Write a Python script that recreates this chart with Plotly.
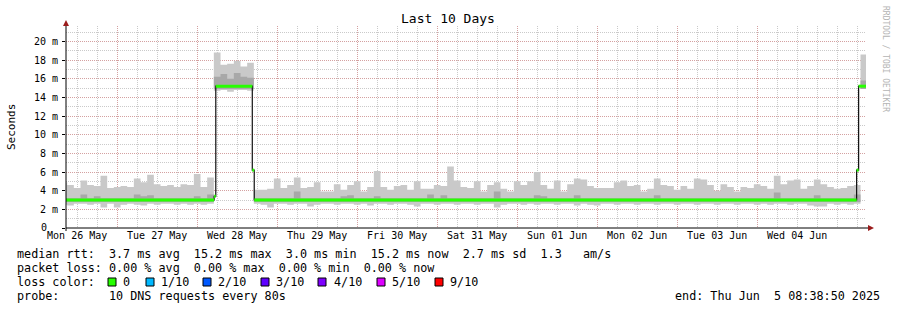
import plotly.graph_objects as go
import pandas as pd

# ---------------- data ----------------
start = pd.Timestamp("2025-05-26 08:38:50")
end = pd.Timestamp("2025-06-05 08:38:50")

day_labels = ["Mon 26 May", "Tue 27 May", "Wed 28 May", "Thu 29 May", "Fri 30 May",
              "Sat 31 May", "Sun 01 Jun", "Mon 02 Jun", "Tue 03 Jun", "Wed 04 Jun"]
day_noons = pd.date_range("2025-05-26 12:00", periods=10, freq="D")
midnights = pd.date_range("2025-05-27 00:00", periods=9, freq="D")

y_tick_vals = [0, 2, 4, 6, 8, 10, 12, 14, 16, 18, 20]
y_tick_text = ["", "2 m", "4 m", "6 m", "8 m", "10 m", "12 m", "14 m", "16 m",
               "18 m", "20 m"]
y_zero_label = "0"

# smoke, 2-hour bins (ms)
bin_times = pd.date_range("2025-05-26 07:00", periods=121, freq="2h")
smoke_hi = [4.9, 4.6, 4.3, 5.1, 4.6, 4.5, 5.6, 4.3, 4.4, 4.5, 4.4, 5.3, 4.9, 5.7, 4.7, 4.5,
            4.6, 4.4, 4.7, 4.6, 5.8, 4.4, 5.4,
            18.8, 17.5, 17.6, 17.9, 17.3, 17.7,
            4.1, 4.1,
            4.2, 5.3, 4.3, 4.6, 5.4, 4.3, 4.4, 4.9, 3.9, 3.9, 4.7, 4.1, 4.6, 5.0, 3.9,
            4.4, 6.1, 4.4, 4.1, 4.5, 4.6, 4.1, 5.0, 4.2, 4.2, 4.6, 4.5, 6.6, 5.1, 4.4,
            4.3, 5.0, 3.9, 4.6, 4.9, 4.2, 3.9, 5.0, 4.6, 5.0, 6.0, 4.6, 4.2, 5.1, 3.9,
            4.7, 5.3, 5.2, 4.5, 4.3, 4.3, 4.3, 4.9, 5.1, 4.5, 4.6, 3.9, 4.2, 5.3, 4.6,
            4.5, 4.1, 4.5, 4.2, 5.3, 5.2, 4.6, 4.0, 4.7, 4.4, 3.9, 4.4, 4.3, 4.7, 4.5,
            4.2, 5.6, 4.7, 5.1, 5.2, 4.2, 4.5, 5.2, 4.7, 4.4, 4.2, 4.3, 4.5, 4.6,
            18.6]
smoke_lo = [2.5, 2.4, 2.6, 2.6, 2.5, 2.6, 2.2, 2.6, 2.2, 2.5, 2.6, 2.5, 2.4, 2.6, 2.5, 2.6,
            2.6, 2.5, 2.6, 2.5, 2.6, 2.5, 2.6,
            14.7, 14.8, 14.6, 14.8, 14.8, 14.7,
            2.6, 2.5, 2.2, 2.6, 2.6, 2.5, 2.6, 2.6, 2.3, 2.5, 2.6, 2.6, 2.5, 2.6, 2.6, 2.5,
            2.6, 2.4, 2.6, 2.6, 2.5, 2.6, 2.6, 2.5, 2.3, 2.6, 2.6, 2.5, 2.6, 2.6, 2.5, 2.6,
            2.6, 2.5, 2.6, 2.6, 2.2, 2.5, 2.6, 2.6, 2.5, 2.6, 2.5, 2.6, 2.6, 2.5, 2.6,
            2.6, 2.4, 2.6, 2.5, 2.4, 2.6, 2.6, 2.5, 2.6, 2.6, 2.5, 2.6, 2.6, 2.5, 2.6,
            2.6, 2.5, 2.6, 2.6, 2.5, 2.6, 2.6, 2.5, 2.6, 2.6, 2.5, 2.6, 2.6, 2.5, 2.6,
            2.5, 2.6, 2.6, 2.5, 2.6, 2.6, 2.4, 2.3, 2.3, 2.6, 2.5, 2.6, 2.5, 2.6,
            14.9]
core_hi = [3.2, 3.2, 3.2, 3.6, 3.2, 3.4, 3.2, 3.2, 3.2, 3.2, 3.2, 3.6, 3.4, 3.5, 3.2, 3.2,
           3.2, 3.2, 3.2, 3.2, 3.4, 3.2, 3.6,
           16.2, 16.5, 16.0, 16.6, 16.2, 16.1,
           3.2, 3.2, 3.2, 3.2, 3.2, 3.2, 3.9, 3.2, 3.2, 3.2, 3.2, 3.2, 3.2, 3.4, 3.5, 3.2,
           3.2, 3.2, 3.4, 3.2, 3.2, 3.2, 3.2, 3.2, 3.2, 3.2, 3.6, 3.2, 3.5, 3.2, 3.2, 3.2,
           3.2, 3.2, 3.2, 3.2, 3.9, 3.2, 3.2, 3.2, 3.2, 3.2, 3.5, 3.4, 3.2, 3.2, 3.2,
           3.2, 3.5, 3.2, 3.2, 3.2, 3.2, 3.2, 3.2, 3.2, 3.2, 3.2, 3.2, 3.2, 3.5, 3.2,
           3.2, 3.2, 3.2, 3.2, 3.2, 3.2, 3.2, 3.2, 3.2, 3.2, 3.2, 3.2, 3.2, 3.2, 3.2,
           3.2, 3.8, 3.2, 3.2, 3.2, 3.2, 3.2, 3.5, 3.2, 3.2, 3.2, 3.2, 3.2, 3.6,
           15.8]
core_lo = [2.8] * 23 + [14.9] * 6 + [2.8] * 91 + [14.9]

# median rtt steps (ms)
median_times = ["2025-05-26 08:38:50", "2025-05-28 05:05", "2025-05-28 05:35",
                "2025-05-28 16:32", "2025-05-28 17:07", "2025-06-05 05:50",
                "2025-06-05 06:26"]
median_vals = [3.0, 3.4, 15.2, 6.2, 3.0, 6.2, 15.2]

legend_line1 = "median rtt:  3.7 ms avg  15.2 ms max  3.0 ms min  15.2 ms now  2.7 ms sd  1.3   am/s"
legend_line2 = "packet loss: 0.00 % avg  0.00 % max  0.00 % min  0.00 % now"
legend_line3 = "loss color:"
legend_line4 = "probe:       10 DNS requests every 80s"
end_text = "end: Thu Jun  5 08:38:50 2025"
loss_labels = ["0", "1/10", "2/10", "3/10", "4/10", "5/10", "9/10"]
loss_colors = ["#26ff00", "#00b8ff", "#0059ff", "#5e00ff", "#7e00ff", "#dd00ff", "#ff0000"]

# ---------------- layout geometry (pixels) ----------------
W, H = 897, 310
L, R, T, B = 66, 31, 26, 82
PW, PH = W - L - R, H - T - B
FONT = "DejaVu Sans Mono"


def px(x):
    return (x - L) / PW


def py(y):
    return (H - B - y) / PH


step = pd.Timedelta(hours=2)
bx = list(bin_times) + [bin_times[-1] + step]

fig = go.Figure()


def band(lo, hi, color):
    fig.add_trace(go.Scatter(x=bx, y=lo + [lo[-1]], mode="lines", line=dict(width=0, shape="hv"),
                             hoverinfo="skip"))
    fig.add_trace(go.Scatter(x=bx, y=hi + [hi[-1]], mode="lines", line=dict(width=0, shape="hv"),
                             fill="tonexty", fillcolor=color, hoverinfo="skip"))


band(smoke_lo, smoke_hi, "#c9c9c9")
band(core_lo, core_hi, "#a8a8a8")

mt = [pd.Timestamp(t) for t in median_times] + [end]
mv = median_vals + [median_vals[-1]]
fig.add_trace(go.Scatter(x=mt, y=mv, mode="lines", line=dict(color="#101010", width=1.2, shape="hv"),
                         hoverinfo="skip"))
gx, gy = [], []
for i in range(len(median_vals)):
    gx += [mt[i], mt[i + 1], None]
    gy += [mv[i], mv[i], None]
fig.add_trace(go.Scatter(x=gx, y=gy, mode="lines", line=dict(color="#26ff00", width=3),
                         hoverinfo="skip"))
# label axis carrier
fig.add_trace(go.Scatter(x=[start], y=[None], xaxis="x2", mode="markers", hoverinfo="skip"))

gray_grid = "rgba(150,150,150,0.5)"
red_grid = "rgba(225,110,110,0.45)"

fig.update_layout(
    width=W, height=H, margin=dict(l=L, r=R, t=T, b=B, pad=0),
    paper_bgcolor="white", plot_bgcolor="white", showlegend=False,
    font=dict(family=FONT, size=10, color="black"),
    xaxis=dict(type="date", range=[start, end], tickmode="array", tickvals=list(midnights),
               showticklabels=False, showgrid=True, gridcolor=red_grid, griddash="1px,1px",
               gridwidth=1, zeroline=False, showline=False, ticks="",
               minor=dict(dtick=6 * 3600 * 1000, tick0="2025-05-26 00:00", showgrid=True,
                          gridcolor=gray_grid, griddash="1px,1px", gridwidth=1)),
    xaxis2=dict(type="date", range=[start, end], overlaying="x", anchor="y", side="bottom",
                tickmode="array", tickvals=list(day_noons), ticktext=day_labels,
                showgrid=False, zeroline=False, showline=False, ticks="",
                tickfont=dict(family=FONT, size=10, color="black")),
    yaxis=dict(range=[0, 21.65], tickmode="array", tickvals=y_tick_vals, ticktext=y_tick_text,
               showgrid=True, gridcolor=red_grid, griddash="1px,1px", gridwidth=1,
               zeroline=False, showline=False, ticks="outside", ticklen=3, tickcolor="black",
               ticklabelstandoff=2,
               tickfont=dict(family=FONT, size=10, color="black"),
               minor=dict(dtick=1, tick0=0, showgrid=True, gridcolor=gray_grid,
                          griddash="1px,1px", gridwidth=1)),
)

arrow = "#9b1c1c"
shapes = [
    dict(type="line", xref="paper", yref="paper", x0=px(66), x1=px(868), y0=py(228), y1=py(228),
         line=dict(color="black", width=1), layer="above"),
    dict(type="line", xref="paper", yref="paper", x0=px(66), x1=px(66), y0=py(231), y1=py(24),
         line=dict(color="black", width=1), layer="above"),
    dict(type="path", xref="paper", yref="paper",
         path=f"M {px(63)},{py(26)} L {px(69)},{py(26)} L {px(66)},{py(20)} Z",
         fillcolor=arrow, line=dict(color=arrow, width=0), layer="above"),
    dict(type="path", xref="paper", yref="paper",
         path=f"M {px(868)},{py(225)} L {px(868)},{py(231)} L {px(874)},{py(228)} Z",
         fillcolor=arrow, line=dict(color=arrow, width=0), layer="above"),
]

box_lefts = [108, 146, 203, 261, 318, 377, 435]
text_lefts = [122, 160, 217, 275, 333, 391, 449]
for bl, c in zip(box_lefts, loss_colors):
    shapes.append(dict(type="rect", xref="paper", yref="paper", x0=px(bl), x1=px(bl + 8),
                       y0=py(286), y1=py(278), fillcolor=c, line=dict(color="black", width=1)))
fig.update_layout(shapes=shapes)

ann = []


def text(x, y, s, size=11.75, anchor="left", color="black", angle=0, yanchor="middle"):
    ann.append(dict(xref="paper", yref="paper", x=px(x), y=py(y), text=s, showarrow=False,
                    xanchor=anchor, yanchor=yanchor, textangle=angle, borderpad=0,
                    font=dict(family=FONT, size=size, color=color)))


text(448, 19, "Last 10 Days", size=13, anchor="center")
text(11, 127, "Seconds", size=11, anchor="center", angle=-90)
text(886, 59, "RRDTOOL / TOBI OETIKER", size=8, anchor="center", angle=90, color="#b4b4b4")
text(47.5, 227.5, y_zero_label, size=10, anchor="right")
text(16, 254, legend_line1)
text(16, 268, legend_line2)
text(16, 282, legend_line3)
for tl, lab in zip(text_lefts, loss_labels):
    text(tl, 282, lab)
text(16, 296, legend_line4)
text(881, 296, end_text, anchor="right")
fig.update_layout(annotations=ann)

fig.write_html("out.html")
